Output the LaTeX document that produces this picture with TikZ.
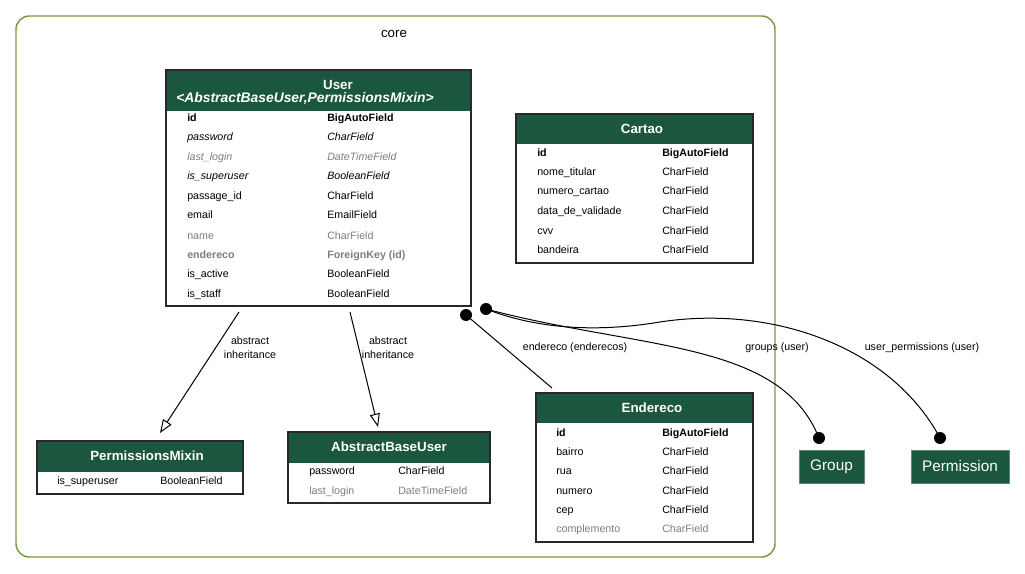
\documentclass[tikz,border=0pt]{standalone}
\usepackage{fontspec}
\setmainfont{Liberation Sans}
\usetikzlibrary{arrows.meta,fit}

\definecolor{hdrgreen}{RGB}{27,86,63}
\definecolor{clusterline}{RGB}{122,154,58}
\definecolor{fieldgray}{RGB}{125,125,125}
\definecolor{boxline}{RGB}{40,40,40}

% one field row of a model table: name prefix, x of name, x of type, y, style, name, type
\newcommand\frow[7]{%
  \node[fld,#5] (#1a) at (#2,#4+4) {#6};
  \node[fld,#5] (#1b) at (#3,#4+4) {#7};}

\begin{document}
\begin{tikzpicture}[x=0.75pt,y=-0.75pt,
  fld/.style={anchor=base west,inner sep=0pt,font=\fontsize{8}{9.6}\selectfont},
  fb/.style={font=\fontsize{8}{9.6}\selectfont\bfseries},
  fi/.style={font=\fontsize{8}{9.6}\selectfont\itshape},
  fig/.style={font=\fontsize{8}{9.6}\selectfont\itshape,text=fieldgray},
  fn/.style={},
  fg/.style={text=fieldgray},
  fbg/.style={font=\fontsize{8}{9.6}\selectfont\bfseries,text=fieldgray},
  tbl/.style={draw=boxline,line width=1pt,inner sep=0pt},
  hdr/.style={fill=hdrgreen},
  title/.style={text=white,inner sep=0pt,font=\fontsize{10}{12}\selectfont\bfseries},
  extmodel/.style={fill=hdrgreen,draw=hdrgreen!70!white,line width=0.6pt,text=white,
    inner sep=0pt,font=\fontsize{11.5}{13}\selectfont},
  dotn/.style={circle,fill=black,inner sep=0pt,minimum size=9pt},
  elabel/.style={inner sep=1pt,align=center,font=\fontsize{8}{10.5}\selectfont},
  inherit/.style={line width=0.75pt,-{Triangle[open,length=10pt,width=7.5pt]}},
  rel/.style={line width=0.75pt}]

\useasboundingbox (0,0) rectangle (1025,574);

% app cluster
\draw[clusterline,line width=1.1pt,rounded corners=10pt] (16,16) rectangle (775,557);
\node[inner sep=0pt,font=\fontsize{10}{12}\selectfont] (corelabel) at (394,34) {core};

% ---- User
\fill[hdr] (167,71) rectangle (470,111);
\node[tbl,fit={(166,70)(471,306)}] (user) {};
\node[title] (usert1) at (338,85) {User};
\node[title,font=\fontsize{10.4}{12}\selectfont\bfseries\itshape] (usert2) at (305,99)
  {<AbstractBaseUser,PermissionsMixin>};
\frow{u1}{187}{327}{118}{fb}{id}{BigAutoField}
\frow{u2}{187}{327}{137}{fi}{password}{CharField}
\frow{u3}{187}{327}{157}{fig}{last\_login}{DateTimeField}
\frow{u4}{187}{327}{176}{fi}{is\_superuser}{BooleanField}
\frow{u5}{187}{327}{196}{fn}{passage\_id}{CharField}
\frow{u6}{187}{327}{215}{fn}{email}{EmailField}
\frow{u7}{187}{327}{235}{fg}{name}{CharField}
\frow{u8}{187}{327}{254}{fbg}{endereco}{ForeignKey (id)}
\frow{u9}{187}{327}{273}{fn}{is\_active}{BooleanField}
\frow{u10}{187}{327}{293}{fn}{is\_staff}{BooleanField}

% ---- Cartao
\fill[hdr] (517,115) rectangle (752,144);
\node[tbl,fit={(516,114)(753,263)}] (cartao) {};
\node[title] (cartaot) at (642,129) {Cartao};
\frow{c1}{537}{662}{153}{fb}{id}{BigAutoField}
\frow{c2}{537}{662}{172}{fn}{nome\_titular}{CharField}
\frow{c3}{537}{662}{191}{fn}{numero\_cartao}{CharField}
\frow{c4}{537}{662}{211}{fn}{data\_de\_validade}{CharField}
\frow{c5}{537}{662}{230}{fn}{cvv}{CharField}
\frow{c6}{537}{662}{249}{fn}{bandeira}{CharField}

% ---- Endereco
\fill[hdr] (537,394) rectangle (752,423);
\node[tbl,fit={(536,393)(753,542)}] (endereco) {};
\node[title] (enderecot) at (652,408) {Endereco};
\frow{e1}{556}{662}{432}{fb}{id}{BigAutoField}
\frow{e2}{556}{662}{451}{fn}{bairro}{CharField}
\frow{e3}{556}{662}{470}{fn}{rua}{CharField}
\frow{e4}{556}{662}{490}{fn}{numero}{CharField}
\frow{e5}{556}{662}{509}{fn}{cep}{CharField}
\frow{e6}{556}{662}{528}{fg}{complemento}{CharField}

% ---- PermissionsMixin
\fill[hdr] (38,442) rectangle (242,472);
\node[tbl,fit={(37,441)(243,494)}] (permmixin) {};
\node[title] (permmixint) at (147,456) {PermissionsMixin};
\frow{p1}{57}{160}{480}{fn}{is\_superuser}{BooleanField}

% ---- AbstractBaseUser
\fill[hdr] (289,433) rectangle (489,463);
\node[tbl,fit={(288,432)(490,503)}] (abuser) {};
\node[title] (abusert) at (389,447) {AbstractBaseUser};
\frow{a1}{309}{398}{470}{fn}{password}{CharField}
\frow{a2}{309}{398}{490}{fg}{last\_login}{DateTimeField}

% ---- models from other apps
\node[extmodel,minimum width=48.75pt,minimum height=24.75pt] (group) at (831.5,466.5) {Group};
\node[extmodel,minimum width=73.5pt,minimum height=24.75pt] (permission) at (960,466.5) {Permission};

% ---- inheritance
\coordinate (inhA) at (239,312);
\coordinate (inhB) at (350,312);
\coordinate (pmTop) at (160,433);
\coordinate (abTop) at (378,427);
\draw[inherit] (inhA) -- (pmTop);
\draw[inherit] (inhB) -- (abTop);
\node[elabel] (lblA) at (250,348) {abstract\\inheritance};
\node[elabel] (lblB) at (388,348) {abstract\\inheritance};

% ---- relations
\node[dotn] (dEnd) at (466,315) {};
\node[dotn] (dM2M) at (486,309) {};
\node[dotn] (dGroup) at (819,438) {};
\node[dotn] (dPerm) at (940,438) {};
\coordinate (endTop) at (552,388);

\draw[rel] (dEnd.center) -- (endTop);
\draw[rel] (dM2M.center) .. controls (640,350) and (780,340) .. (dGroup.center);
\draw[rel] (dM2M.center) .. controls (540,330) and (600,332) .. (660,322)
  .. controls (770,305) and (890,345) .. (dPerm.center);

\node[elabel] (lblEnd) at (575,348) {endereco (enderecos)};
\node[elabel] (lblGroup) at (777,348) {groups (user)};
\node[elabel] (lblPerm) at (922,348) {user\_permissions (user)};

\end{tikzpicture}
\end{document}
